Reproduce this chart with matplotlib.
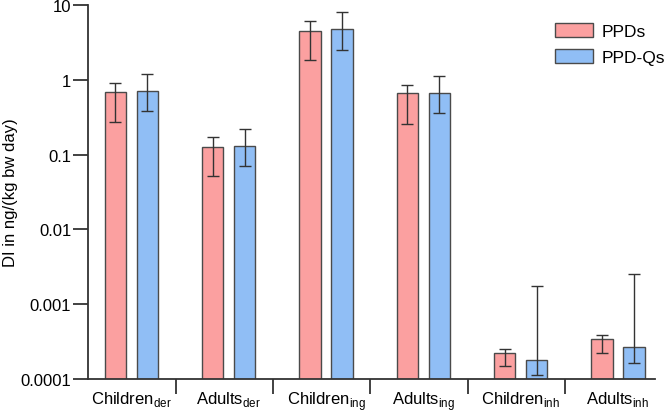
import numpy as np
import matplotlib.pyplot as plt

# categories and values (log scale)
categories = ["Children$_{\\mathregular{der}}$", "Adults$_{\\mathregular{der}}$",
              "Children$_{\\mathregular{ing}}$", "Adults$_{\\mathregular{ing}}$",
              "Children$_{\\mathregular{inh}}$", "Adults$_{\\mathregular{inh}}$"]

ppds = [0.68, 0.127, 4.5, 0.66, 0.00022, 0.00034]
ppds_low = [0.275, 0.051, 1.83, 0.26, 0.000148, 0.000223]
ppds_high = [0.92, 0.17, 6.1, 0.865, 0.000254, 0.00039]

ppdqs = [0.71, 0.132, 4.76, 0.665, 0.000182, 0.000272]
ppdqs_low = [0.38, 0.071, 2.5, 0.365, 0.000112, 0.000165]
ppdqs_high = [1.2, 0.22, 8.0, 1.13, 0.00173, 0.00257]

yticks = [0.0001, 0.001, 0.01, 0.1, 1, 10]
ytick_labels = ["0.0001", "0.001", "0.01", "0.1", "1", "10"]

plt.rcParams['font.family'] = ['Liberation Sans', 'DejaVu Sans']
plt.rcParams['mathtext.fontset'] = 'custom'
plt.rcParams['mathtext.rm'] = 'Liberation Sans'

fig = plt.figure(figsize=(6.64, 4.14), dpi=100)
ax = fig.add_axes([0.1325, 0.0821, 0.854, 0.9034])

x = np.arange(len(categories))
w = 0.22
off = 0.164
pink = '#FBA0A0'
blue = '#90BEF5'
edge = '#4a4a4a'

def yerr(vals, lo, hi):
    v = np.array(vals)
    return [v - np.array(lo), np.array(hi) - v]

ax.bar(x - off, ppds, w, color=pink, edgecolor=edge, linewidth=1, label='PPDs', zorder=2)
ax.bar(x + off, ppdqs, w, color=blue, edgecolor=edge, linewidth=1, label='PPD-Qs', zorder=2)
ax.errorbar(x - off, ppds, yerr=yerr(ppds, ppds_low, ppds_high), fmt='none',
            ecolor='#333333', elinewidth=1, capsize=4, capthick=1, zorder=3)
ax.errorbar(x + off, ppdqs, yerr=yerr(ppdqs, ppdqs_low, ppdqs_high), fmt='none',
            ecolor='#333333', elinewidth=1, capsize=4, capthick=1, zorder=3)

ax.set_yscale('log')
ax.set_ylim(0.0001, 10)
ax.set_xlim(-0.446, 5.38)
ax.set_yticks(yticks)
ax.set_yticklabels(ytick_labels, fontsize=12)
ax.yaxis.set_minor_locator(plt.NullLocator())
ax.tick_params(axis='y', length=11, width=1.3, color='#333333', pad=1)

ax.set_xticks(x)
ax.set_xticklabels(categories, fontsize=12)
ax.tick_params(axis='x', which='major', length=0, pad=7)
ax.set_xticks(x[:-1] + 0.456, minor=True)
ax.tick_params(axis='x', which='minor', length=11, width=1.3, color='#333333')

for s in ['top', 'right']:
    ax.spines[s].set_visible(False)
for s in ['left', 'bottom']:
    ax.spines[s].set_linewidth(1.3)
    ax.spines[s].set_color('#333333')

ax.set_ylabel('DI in ng/(kg bw day)', fontsize=12, labelpad=2)

ax.legend(loc='upper left', bbox_to_anchor=(0.825, 0.96), bbox_transform=fig.transFigure,
          frameon=False, fontsize=12.5, handlelength=2.2, handleheight=0.95,
          labelspacing=0.55, handletextpad=0.5, borderaxespad=0)

fig.savefig('out.png', dpi=100)
